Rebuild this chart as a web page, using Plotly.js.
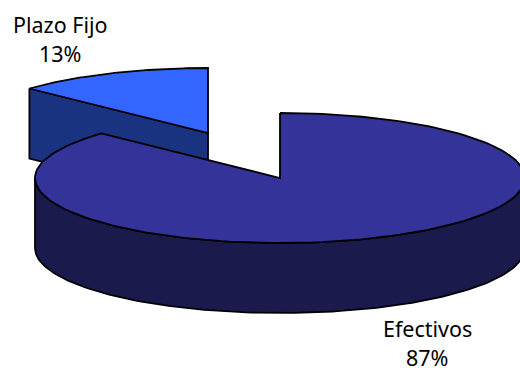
<!DOCTYPE html>
<html>
<head>
<meta charset="utf-8">
<script src="https://cdn.plot.ly/plotly-3.0.1.min.js"></script>
<style>html,body{margin:0;padding:0;background:#fff}#chart{width:520px;height:370px}</style>
</head>
<body>
<div id="chart"></div>
<script>
// Portfolio shares, clockwise from twelve o'clock
const categories = ['Efectivos', 'Plazo Fijo'];
const shares = [87, 13];
const topColors = ['#333399', '#3366ff'];
const sideColors = ['#1a1a4d', '#1a3380'];

// Tilted-disc geometry in plot units
const RX = 245, RY = 65, DEPTH = 70;
const discCenter = { x: 280, y: 178 };
const explodedCenter = { x: 208, y: 133 };
const labelAnchors = [{ x: 427, y: 328 }, { x: 60, y: 24 }];
const LINE_GAP = 28.5;
const FONT = { family: 'Noto Sans, DejaVu Sans, sans-serif', size: 21.5, color: '#000' };

const total = shares.reduce((a, b) => a + b, 0);
const toRad = share => share / total * 2 * Math.PI;

// Points along the rim; angle 0 is twelve o'clock, growing clockwise
function rim(c, from, to, dy) {
  const n = 160, pts = [];
  for (let i = 0; i <= n; i++) {
    const t = from + (to - from) * i / n;
    pts.push([c.x + RX * Math.sin(t), c.y - RY * Math.cos(t) + dy]);
  }
  return pts;
}

function poly(pts, fill) {
  const closed = pts.concat([pts[0]]);
  return {
    type: 'scatter', mode: 'lines',
    x: closed.map(p => p[0]), y: closed.map(p => p[1]),
    fill: 'toself', fillcolor: fill,
    line: { color: '#000', width: 1.8 },
    hoverinfo: 'skip', showlegend: false
  };
}

const mainSweep = toRad(shares[0]);
const smallFrom = -toRad(shares[1]);

// Exploded wedge: its front cut face, then its top
const smallEdge = rim(explodedCenter, smallFrom, 0, 0)[0];
const apex = [explodedCenter.x, explodedCenter.y];
const smallFace = [smallEdge, apex, [apex[0], apex[1] + DEPTH], [smallEdge[0], smallEdge[1] + DEPTH]];
const smallTop = rim(explodedCenter, smallFrom, 0, 0).concat([apex]);

// Main wedge: curved wall along the front half, then its top
const wallUpper = rim(discCenter, Math.PI / 2, 3 * Math.PI / 2, 0);
const wallLower = rim(discCenter, Math.PI / 2, 3 * Math.PI / 2, DEPTH).reverse();
const mainTop = rim(discCenter, 0, mainSweep, 0).concat([[discCenter.x, discCenter.y]]);

const traces = [
  poly(smallFace, sideColors[1]),
  poly(smallTop, topColors[1]),
  poly(wallUpper.concat(wallLower), sideColors[0]),
  poly(mainTop, topColors[0])
];

// Name and percentage are separate lines; the percentage box is trimmed to fit above the page edge
const annotations = [];
categories.forEach((name, i) => {
  annotations.push({
    x: labelAnchors[i].x, y: labelAnchors[i].y,
    text: name, showarrow: false, font: FONT, xanchor: 'center', yanchor: 'middle'
  });
  annotations.push({
    x: labelAnchors[i].x, y: labelAnchors[i].y + LINE_GAP,
    text: shares[i] + '%', showarrow: false, font: FONT,
    xanchor: 'center', yanchor: 'middle', height: 26, borderpad: 0
  });
});

const hiddenAxis = { visible: false, fixedrange: true };
Plotly.newPlot('chart', traces, {
  width: 520, height: 370,
  margin: { l: 0, r: 0, t: 0, b: 0 },
  paper_bgcolor: '#fff', plot_bgcolor: '#fff',
  xaxis: Object.assign({ range: [0, 520] }, hiddenAxis),
  yaxis: Object.assign({ range: [370, 0] }, hiddenAxis),
  showlegend: false,
  annotations
}, { displayModeBar: false, staticPlot: true });
</script>
</body>
</html>
